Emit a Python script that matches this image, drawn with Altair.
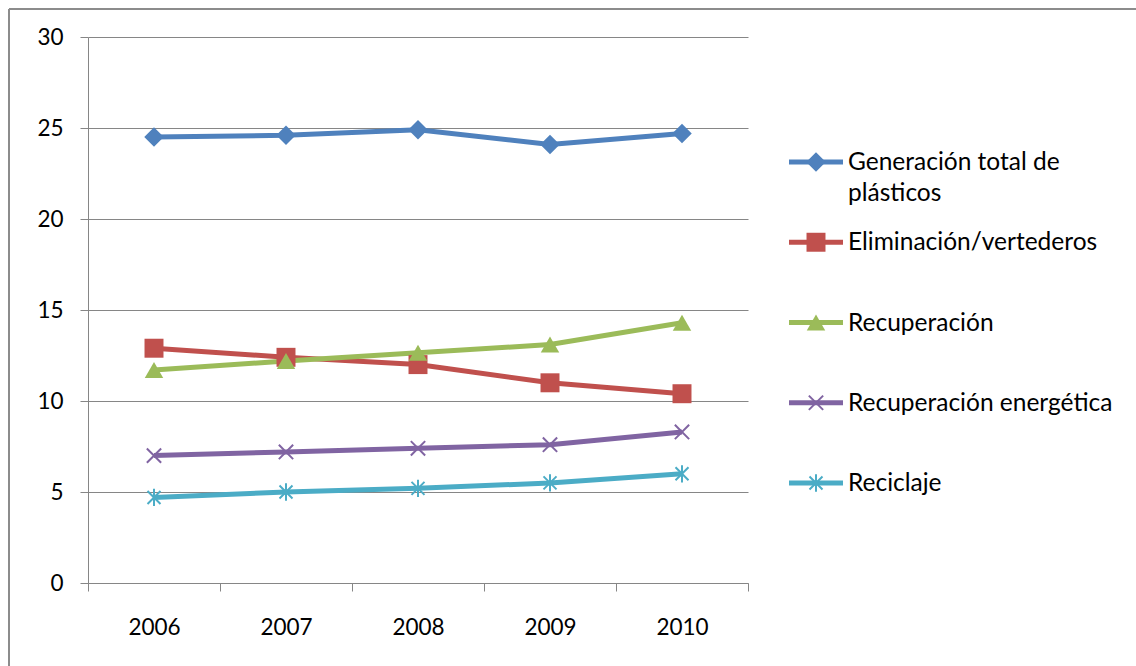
import altair as alt
import pandas as pd

years = ["2006", "2007", "2008", "2009", "2010"]
series_names = [
    "Generación total de plásticos",
    "Eliminación/vertederos",
    "Recuperación",
    "Recuperación energética",
    "Reciclaje",
]
legend_texts = [
    "Generación total de\nplásticos",
    "Eliminación/vertederos",
    "Recuperación",
    "Recuperación energética",
    "Reciclaje",
]
generacion = [24.5, 24.6, 24.9, 24.1, 24.7]
eliminacion = [12.9, 12.4, 12.0, 11.0, 10.4]
recuperacion = [11.7, 12.2, 12.65, 13.1, 14.3]
energetica = [7.0, 7.2, 7.4, 7.6, 8.3]
reciclaje = [4.7, 5.0, 5.2, 5.5, 6.0]

colors = ["#4F81BD", "#C0504D", "#9BBB59", "#8064A2", "#4BACC6"]
shapes = [
    "diamond",
    "square",
    "triangle-up",
    "M-0.8,-0.8L0.8,0.8M-0.8,0.8L0.8,-0.8",
    "M-0.75,-0.75L0.75,0.75M-0.75,0.75L0.75,-0.75M0,-1L0,1",
]
sizes = [380, 300, 350, 420, 400]
filled_series = series_names[:3]
open_series = series_names[3:]

rows = []
for name, vals in zip(series_names, [generacion, eliminacion, recuperacion, energetica, reciclaje]):
    for y, v in zip(years, vals):
        rows.append({"year": y, "value": v, "series": name})
df = pd.DataFrame(rows)
leg = pd.DataFrame({"series": series_names, "label": legend_texts})

FONT = "Lato"
FS = 22.5
LFS = 24.5
LW = 5
color_scale = alt.Scale(domain=series_names, range=colors)
shape_scale = alt.Scale(domain=series_names, range=shapes)
size_scale = alt.Scale(domain=series_names, range=sizes)

x_enc = alt.X(
    "year:O",
    bandPosition=0.5,
    scale=alt.Scale(type="band", paddingInner=0, paddingOuter=0),
    axis=alt.Axis(
        title=None, labelAngle=0, tickBand="extent", grid=False,
        domainColor="#868686", tickColor="#868686", tickSize=8,
        labelPadding=25, labelFont=FONT, labelFontSize=FS, labelColor="#000000",
    ),
)
y_enc = alt.Y(
    "value:Q",
    scale=alt.Scale(domain=[0, 30], nice=False),
    axis=alt.Axis(
        title=None, values=[0, 5, 10, 15, 20, 25, 30], grid=True,
        gridColor="#868686", domainColor="#868686", tickColor="#868686",
        tickSize=8, labelPadding=17, labelFont=FONT, labelFontSize=FS,
        labelColor="#000000",
    ),
)

base = alt.Chart(df)
lines = base.mark_line(strokeWidth=LW).encode(
    x=x_enc, y=y_enc,
    color=alt.Color("series:N", scale=color_scale, legend=None),
    detail="series:N",
)
pts_filled = base.transform_filter(
    alt.FieldOneOfPredicate(field="series", oneOf=filled_series)
).mark_point(filled=True, opacity=1).encode(
    x=x_enc, y=y_enc,
    color=alt.Color("series:N", scale=color_scale, legend=None),
    shape=alt.Shape("series:N", scale=shape_scale, legend=None),
    size=alt.Size("series:N", scale=size_scale, legend=None),
)
pts_open = base.transform_filter(
    alt.FieldOneOfPredicate(field="series", oneOf=open_series)
).mark_point(filled=False, strokeWidth=2, opacity=1).encode(
    x=x_enc, y=y_enc,
    color=alt.Color("series:N", scale=color_scale, legend=None),
    shape=alt.Shape("series:N", scale=shape_scale, legend=None),
    size=alt.Size("series:N", scale=size_scale, legend=None),
)
main = alt.layer(lines, pts_filled, pts_open)

leg_y = alt.Y("series:N", scale=alt.Scale(type="point", domain=series_names, range=[125, 446], padding=0), axis=None)
lbase = alt.Chart(leg)
leg_line = lbase.mark_rule(strokeWidth=LW).encode(
    x=alt.value(701), x2=alt.value(755), y=leg_y,
    color=alt.Color("series:N", scale=color_scale, legend=None),
)
leg_pf = lbase.transform_filter(
    alt.FieldOneOfPredicate(field="series", oneOf=filled_series)
).mark_point(filled=True, opacity=1).encode(
    x=alt.value(728), y=leg_y,
    color=alt.Color("series:N", scale=color_scale, legend=None),
    shape=alt.Shape("series:N", scale=shape_scale, legend=None),
    size=alt.Size("series:N", scale=size_scale, legend=None),
)
leg_po = lbase.transform_filter(
    alt.FieldOneOfPredicate(field="series", oneOf=open_series)
).mark_point(filled=False, strokeWidth=2, opacity=1).encode(
    x=alt.value(728), y=leg_y,
    color=alt.Color("series:N", scale=color_scale, legend=None),
    shape=alt.Shape("series:N", scale=shape_scale, legend=None),
    size=alt.Size("series:N", scale=size_scale, legend=None),
)
leg_text = lbase.mark_text(
    align="left", baseline="alphabetic", dy=8, lineBreak="\n", lineHeight=31,
    font=FONT, fontSize=LFS, color="#000000",
).encode(x=alt.value(760), y=leg_y, text="label:N")

border_top = alt.Chart(leg).mark_rule(color="#8C8C8C", strokeWidth=2).encode(
    x=alt.value(-79), x2=alt.value(1060), y=alt.value(-28)
)
border_left = alt.Chart(leg).mark_rule(color="#8C8C8C", strokeWidth=2).encode(
    x=alt.value(-79), y=alt.value(-28), y2=alt.value(640)
)
legend_layer = alt.layer(leg_line, leg_pf, leg_po, leg_text, border_top, border_left)

chart = alt.layer(main, legend_layer).resolve_scale(y="independent").properties(
    width=660, height=546,
    autosize=alt.AutoSizeParams(type="none"),
    padding={"left": 88, "top": 37, "right": 388, "bottom": 83},
    background="#FFFFFF",
).configure_view(stroke=None)

chart.save("out.html", embed_options={"renderer": "svg", "actions": False})
